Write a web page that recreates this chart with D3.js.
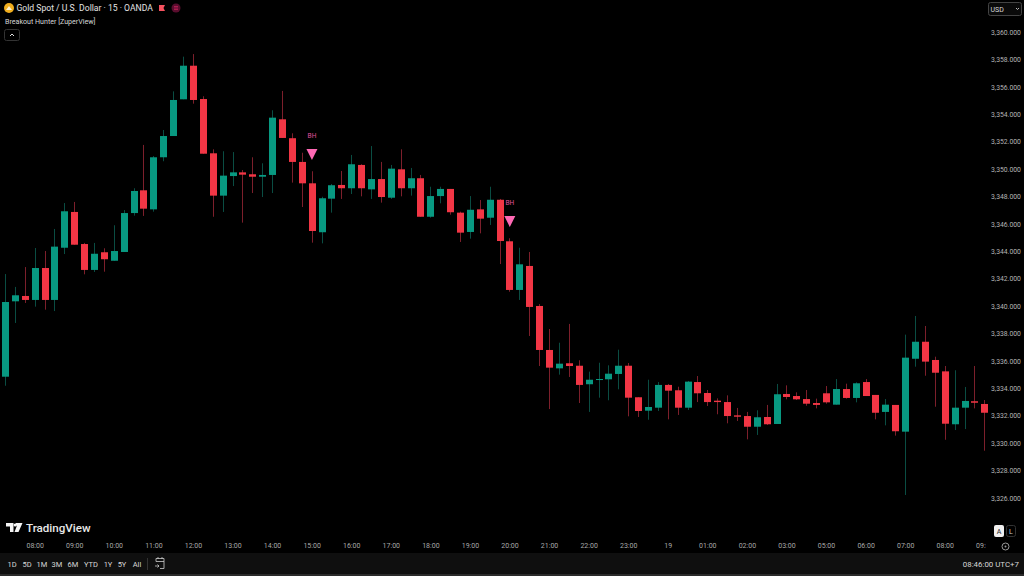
<!DOCTYPE html>
<html><head><meta charset="utf-8">
<script src="https://cdn.jsdelivr.net/npm/d3@7"></script>
<style>html,body{margin:0;padding:0;background:#000;overflow:hidden}svg{display:block}text{font-family:Roboto,"Liberation Sans",sans-serif}</style>
</head><body><svg id="c" width="1024" height="576"></svg>
<script>
const open=[3334.85,3340.35,3340.74,3340.45,3342.78,3340.45,3344.26,3346.87,3344.53,3342.64,3343.93,3343.31,3343.95,3346.79,3348.45,3347.06,3350.86,3352.41,3355.09,3357.54,3355.11,3351.15,3348.06,3349.49,3349.76,3349.62,3349.44,3349.57,3353.63,3352.25,3350.52,3348.96,3345.39,3347.84,3348.84,3348.60,3350.30,3348.52,3349.27,3347.91,3349.98,3348.60,3349.33,3346.52,3348.03,3348.55,3346.82,3345.41,3347.06,3346.45,3347.76,3344.73,3341.18,3342.93,3340.01,3336.80,3335.46,3335.83,3335.65,3334.30,3334.63,3334.66,3335.05,3335.65,3333.35,3332.37,3332.59,3334.25,3333.86,3332.59,3334.46,3333.66,3333.10,3333.00,3332.03,3331.98,3331.20,3331.91,3331.40,3333.59,3333.44,3333.22,3332.93,3333.64,3332.81,3333.95,3333.30,3334.46,3333.52,3332.28,3332.79,3330.84,3336.16,3337.40,3336.07,3335.24,3331.38,3332.59,3333.06,3332.86];
const high=[3342.34,3341.40,3342.85,3344.24,3344.02,3345.63,3347.52,3347.60,3344.61,3344.61,3344.22,3345.90,3347.01,3348.60,3351.76,3350.95,3352.85,3355.67,3358.20,3358.39,3355.31,3351.44,3351.30,3351.24,3349.93,3350.86,3350.42,3354.29,3355.70,3352.61,3351.19,3349.84,3347.98,3348.91,3349.86,3351.03,3350.35,3351.68,3350.52,3350.30,3351.44,3350.08,3349.57,3348.71,3348.71,3348.55,3346.89,3348.03,3347.74,3348.71,3347.82,3344.95,3344.26,3343.95,3340.15,3338.33,3337.33,3338.70,3336.05,3335.22,3335.87,3335.68,3336.82,3335.85,3333.35,3334.63,3334.46,3334.32,3334.12,3334.54,3334.90,3333.88,3333.27,3333.49,3332.57,3332.28,3332.40,3332.79,3334.32,3334.22,3333.71,3333.88,3333.25,3334.17,3334.68,3334.34,3334.44,3334.68,3333.52,3333.22,3332.79,3337.92,3339.28,3338.55,3336.31,3335.63,3335.32,3334.10,3335.63,3333.15];
const low=[3334.19,3338.77,3340.23,3339.96,3339.74,3339.64,3343.80,3344.48,3342.32,3342.49,3342.51,3343.31,3343.95,3346.60,3346.58,3346.89,3350.57,3352.41,3355.09,3354.77,3351.12,3346.52,3346.87,3348.76,3346.09,3348.25,3347.96,3348.25,3352.27,3349.01,3347.23,3344.63,3344.58,3346.82,3347.82,3348.18,3348.01,3347.82,3347.55,3347.82,3348.01,3348.06,3346.52,3346.45,3347.50,3346.67,3344.68,3344.92,3345.31,3345.92,3343.07,3341.05,3340.45,3337.82,3335.63,3332.49,3335.00,3334.83,3332.93,3332.28,3333.32,3333.13,3333.93,3331.96,3331.91,3331.71,3332.35,3331.74,3332.06,3332.42,3333.00,3332.71,3332.11,3331.45,3331.62,3330.28,3330.60,3331.33,3331.40,3333.20,3333.15,3332.73,3332.54,3332.88,3332.81,3333.25,3332.98,3333.44,3331.74,3331.30,3330.55,3326.22,3335.58,3334.92,3332.66,3330.25,3330.96,3331.03,3332.54,3329.45];
const close=[3340.30,3340.79,3340.45,3342.78,3340.45,3344.34,3346.92,3344.48,3342.64,3343.82,3343.42,3344.02,3346.79,3348.40,3347.11,3350.86,3352.41,3355.04,3357.54,3355.04,3351.12,3348.06,3349.52,3349.76,3349.59,3349.44,3349.57,3353.75,3352.27,3350.52,3348.96,3345.48,3347.87,3348.82,3348.60,3350.35,3348.60,3349.27,3347.96,3350.03,3348.60,3349.33,3346.52,3348.03,3348.55,3346.85,3345.36,3347.03,3346.38,3347.76,3344.75,3341.18,3343.05,3339.94,3336.80,3335.51,3335.80,3335.63,3334.25,3334.63,3334.68,3335.07,3335.65,3333.32,3332.35,3332.64,3334.25,3333.83,3332.59,3334.49,3333.64,3333.00,3333.00,3331.98,3331.93,3331.20,3331.89,3331.38,3333.57,3333.37,3333.20,3332.88,3332.79,3332.98,3333.95,3333.30,3334.37,3333.44,3332.22,3332.81,3330.87,3336.24,3337.40,3335.95,3335.14,3331.42,3332.59,3333.08,3332.95,3332.22];
const priceTicks=d3.range(3326,3361,2);
const timeIdx=[3,7,11,15,19,23,27,31,35,39,43,47,51,55,59,63,67,71,75,79,83,87,91,95,99];
const timeLabels=["08:00","09:00","10:00","11:00","12:00","13:00","14:00","15:00","16:00","17:00","18:00","19:00","20:00","21:00","22:00","23:00","19","01:00","02:00","03:00","05:00","06:00","07:00","08:00","09:00"];
const signalBars=[31,51];
const signalPrices=[3350.66,3345.77];
const ranges=["1D","5D","1M","3M","6M","YTD","1Y","5Y","All"];
const rangeX=[12,27,42,57,73,91,108,122,137];

const UP="#089981",DN="#F23645",WUP="#0a4d43",WDN="#7d1f2b",PINK="#FF69B4";
const svg=d3.select("#c");
const x=d3.scaleLinear().domain([0,99]).range([5,984.3]);
const y=d3.scaleLinear().domain([3326,3360]).range([498,32]);
const bars=d3.range(open.length);

svg.append("rect").attr("width",1024).attr("height",576).attr("fill","#000");
const defs=svg.append("defs");
defs.append("clipPath").attr("id","tc").append("rect").attr("x",0).attr("y",-6).attr("width",986).attr("height",18);

// candles
const g=svg.append("g");
g.selectAll("line.w").data(bars).join("line").attr("class","w")
 .attr("x1",i=>Math.round(x(i))+.5).attr("x2",i=>Math.round(x(i))+.5)
 .attr("y1",i=>y(high[i])).attr("y2",i=>y(low[i]))
 .attr("stroke",i=>close[i]>=open[i]?WUP:WDN).attr("stroke-width",1);
g.selectAll("rect.b").data(bars).join("rect").attr("class","b")
 .attr("x",i=>Math.round(x(i))-3).attr("width",7)
 .attr("y",i=>y(Math.max(open[i],close[i])))
 .attr("height",i=>Math.max(1,Math.abs(y(open[i])-y(close[i]))))
 .attr("fill",i=>close[i]>=open[i]?UP:DN);

// signals
signalBars.forEach((b,k)=>{
  const px=x(b)+.3,py=y(signalPrices[k]);
  svg.append("path").attr("d",`M${px-5.5},${py-11}h11l-5.5,11z`).attr("fill",PINK);
  svg.append("text").attr("x",px).attr("y",py-22).attr("text-anchor","middle").attr("font-size",6.5).attr("fill","#e0509f").text("BH");
});

// price axis
const ay=svg.append("g").attr("transform","translate(985,0)").call(d3.axisRight(y).tickValues(priceTicks).tickSize(0).tickFormat(d3.format(",.3f")));
ay.select(".domain").remove();
ay.selectAll("text").attr("x",6).attr("font-size",6.8).attr("fill","#b4b4b4").attr("font-family","Roboto,sans-serif");

// time axis
const ax=svg.append("g").attr("transform","translate(0,543)").attr("clip-path","url(#tc)").call(d3.axisBottom(x).tickValues(timeIdx).tickSize(0).tickFormat((d,i)=>timeLabels[i]));
ax.select(".domain").remove();
ax.selectAll("text").attr("y",0).attr("dy",".71em").attr("font-size",7).attr("fill","#a8a8a8").attr("font-family","Roboto,sans-serif");

// header
svg.append("circle").attr("cx",9).attr("cy",8).attr("r",5).attr("fill","#f0ae1e");
svg.append("path").attr("d","M6,10l3,-4l3,4z").attr("fill","#fff3d0");
svg.append("text").attr("x",16.5).attr("y",11).attr("font-size",8.6).attr("fill","#e4e4e4").text("Gold Spot / U.S. Dollar · 15 · OANDA");
svg.append("path").attr("d","M159,5h6l-1.5,3l1.5,3h-6z").attr("fill","#f7525f");
svg.append("circle").attr("cx",176).attr("cy",8).attr("r",4.5).attr("fill","#5a0d2e");
svg.append("path").attr("d","M174,6.5h4M174,8h4M174,9.5h4").attr("stroke","#d0245e").attr("stroke-width",.7);
svg.append("text").attr("x",5).attr("y",24).attr("font-size",7.1).attr("fill","#d6d6d6").text("Breakout Hunter [ZuperView]");
svg.append("rect").attr("x",4.5).attr("y",29.5).attr("width",15).attr("height",11).attr("rx",2).attr("fill","#000").attr("stroke","#333");
svg.append("path").attr("d","M10,36l2,-2l2,2").attr("fill","none").attr("stroke","#ddd");

// currency
svg.append("rect").attr("x",988.5).attr("y",2.5).attr("width",33).attr("height",13).attr("rx",2).attr("fill","#0a0a0a").attr("stroke","#444");
svg.append("text").attr("x",990.5).attr("y",11.5).attr("font-size",7).attr("fill","#d8d8d8").text("USD");
svg.append("path").attr("d","M1016,8l1.5,1.5l1.5,-1.5").attr("fill","none").attr("stroke","#bbb");

// logo
svg.append("path").attr("d","M6,523h7.5v9h-3.5v-5.5h-4zM16,523h6.5l-4,9h-4l2.5,-6.5h-2.5z").attr("fill","#f4f4f4");
svg.append("circle").attr("cx",15.2).attr("cy",525).attr("r",1.6).attr("fill","#f4f4f4");
svg.append("text").attr("x",26).attr("y",531.5).attr("font-size",11.6).attr("font-weight",500).attr("fill","#e8e8e8").text("TradingView");

// scale buttons
svg.append("rect").attr("x",994).attr("y",525).attr("width",10).attr("height",12).attr("rx",2).attr("fill","#f0f0f0");
svg.append("text").attr("x",999).attr("y",534).attr("text-anchor","middle").attr("font-size",7).attr("fill","#222").text("A");
svg.append("rect").attr("x",1006.5).attr("y",525.5).attr("width",9).attr("height",11).attr("rx",2).attr("fill","#000").attr("stroke","#333");
svg.append("text").attr("x",1011).attr("y",534).attr("text-anchor","middle").attr("font-size",7).attr("fill","#ccc").text("L");
svg.append("circle").attr("cx",1005.5).attr("cy",546.5).attr("r",3.5).attr("fill","none").attr("stroke","#999");
svg.append("circle").attr("cx",1005.5).attr("cy",546.5).attr("r",1).attr("fill","#999");

// toolbar
svg.append("rect").attr("x",0).attr("y",553).attr("width",1024).attr("height",21).attr("fill","#0f0f0f");
svg.append("rect").attr("x",0).attr("y",574).attr("width",1024).attr("height",2).attr("fill","#2a2a2a");
svg.selectAll("text.r").data(ranges).join("text").attr("class","r").attr("x",(d,i)=>rangeX[i]).attr("y",567).attr("text-anchor","middle").attr("font-size",7.5).attr("fill","#d8d8d8").text(d=>d);
svg.append("line").attr("x1",147.5).attr("x2",147.5).attr("y1",558).attr("y2",570).attr("stroke","#333");
svg.append("path").attr("d","M156,561.5v-3h8v10h-4M156,561.5h8M158,557v2M162,557v2M155,566h4m-1.5,-1.5l1.5,1.5l-1.5,1.5").attr("fill","none").attr("stroke","#ccc").attr("stroke-width",.8);
svg.append("text").attr("x",1019).attr("y",567).attr("text-anchor","end").attr("font-size",7.9).attr("fill","#d8d8d8").text("08:46:00 UTC+7");
</script></body></html>
